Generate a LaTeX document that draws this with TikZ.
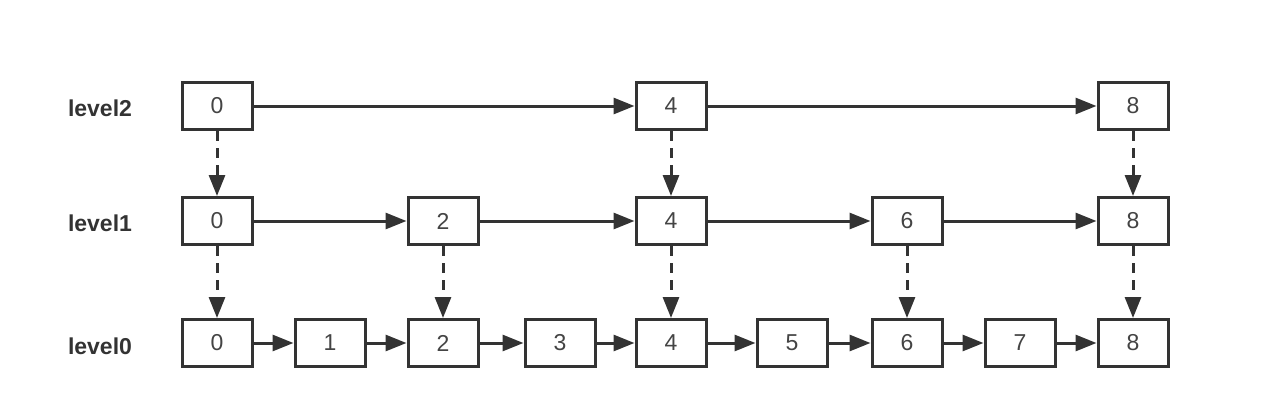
\documentclass[tikz,border=0pt]{standalone}
\usepackage{fontspec}
\setmainfont{Liberation Sans}
\usetikzlibrary{arrows.meta}
\definecolor{linegray}{HTML}{333333}
\definecolor{textgray}{HTML}{444444}
\begin{document}
\begin{tikzpicture}[x=0.5pt,y=-0.5pt,
  cell/.style={draw=linegray, line width=1.5pt, fill=white, minimum width=35pt, minimum height=23.5pt, inner sep=0pt, text=textgray, font=\fontsize{11.5}{13}\selectfont},
  lvl/.style={text=linegray, font=\fontsize{11.5}{14}\selectfont\bfseries},
  link/.style={draw=linegray, line width=1.5pt, -{Triangle[length=10.5pt,width=8pt]}},
  down/.style={link, dash pattern=on 5pt off 3.5pt}]

\useasboundingbox (0,0) rectangle (1280,402);

% levels
\node[lvl] (lab2) at (100,108) {level2};
\node[lvl] (lab1) at (100,223) {level1};
\node[lvl] (lab0) at (100,346) {level0};

% level2
\node[cell] (a0) at (217,106) {0};
\node[cell] (a4) at (671,106) {4};
\node[cell] (a8) at (1133,106) {8};

% level1
\node[cell] (b0) at (217,221) {0};
\node[cell] (b2) at (443,221) {2};
\node[cell] (b4) at (671,221) {4};
\node[cell] (b6) at (907,221) {6};
\node[cell] (b8) at (1133,221) {8};

% level0
\node[cell] (c0) at (217,343) {0};
\node[cell] (c1) at (330,343) {1};
\node[cell] (c2) at (443,343) {2};
\node[cell] (c3) at (560,343) {3};
\node[cell] (c4) at (671,343) {4};
\node[cell] (c5) at (792,343) {5};
\node[cell] (c6) at (907,343) {6};
\node[cell] (c7) at (1020,343) {7};
\node[cell] (c8) at (1133,343) {8};

% forward links
\draw[link] (a0) -- (a4);
\draw[link] (a4) -- (a8);
\draw[link] (b0) -- (b2);
\draw[link] (b2) -- (b4);
\draw[link] (b4) -- (b6);
\draw[link] (b6) -- (b8);
\draw[link] (c0) -- (c1);
\draw[link] (c1) -- (c2);
\draw[link] (c2) -- (c3);
\draw[link] (c3) -- (c4);
\draw[link] (c4) -- (c5);
\draw[link] (c5) -- (c6);
\draw[link] (c6) -- (c7);
\draw[link] (c7) -- (c8);

% down links
\draw[down] (a0) -- (b0);
\draw[down] (a4) -- (b4);
\draw[down] (a8) -- (b8);
\draw[down] (b0) -- (c0);
\draw[down] (b2) -- (c2);
\draw[down] (b4) -- (c4);
\draw[down] (b6) -- (c6);
\draw[down] (b8) -- (c8);

\end{tikzpicture}
\end{document}
